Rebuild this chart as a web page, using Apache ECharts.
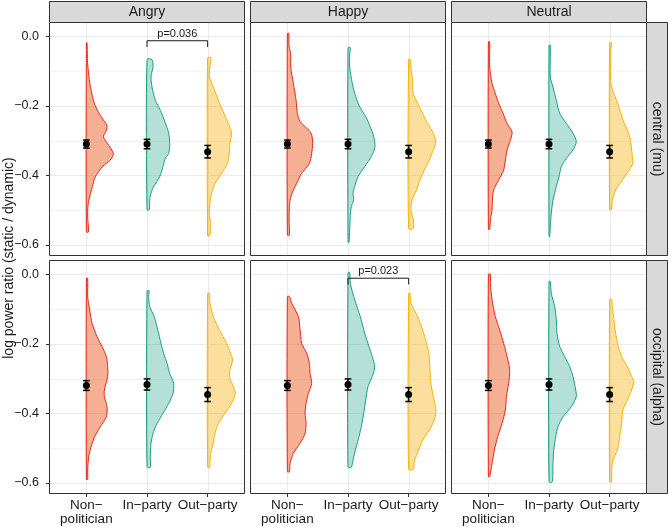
<!DOCTYPE html>
<html>
<head>
<meta charset="utf-8">
<script src="https://cdn.jsdelivr.net/npm/echarts@6/dist/echarts.min.js"></script>
<style>
  html, body { margin: 0; padding: 0; background: #fff; }
  #chart { width: 669px; height: 527px; }
</style>
</head>
<body>
<div id="chart"></div>
<script>
// facets
const emotions = ['Angry', 'Happy', 'Neutral'];
const regions = ['central (mu)', 'occipital (alpha)'];
const groups = ['Non\u2212\npolitician', 'In\u2212party', 'Out\u2212party'];
const yTicks = [-0.6, -0.4, -0.2, 0];
const yMinor = [-0.5, -0.3, -0.1];

// mean +/- SE for each group (same in every emotion panel of a row)
const centralMean = [-0.310, -0.310, -0.332];
const centralSE = [0.0115, 0.0135, 0.018];
const occipitalMean = [-0.320, -0.317, -0.346];
const occipitalSE = [0.014, 0.016, 0.020];

// half violin profiles: [log ratio, density] from top to bottom
const centralAngry = [
  [[-0.019,0.7],[-0.064,1],[-0.088,1.5],[-0.136,3.5],[-0.184,7],[-0.213,11],[-0.241,17],[-0.255,20.5],[-0.270,20],[-0.289,17],[-0.308,21],[-0.337,27],[-0.356,24],[-0.375,16],[-0.404,9],[-0.432,6],[-0.471,2.5],[-0.490,1.5],[-0.520,1.3],[-0.545,2],[-0.563,2]],
  [[-0.067,5],[-0.088,6],[-0.117,4],[-0.146,5],[-0.184,8.3],[-0.213,13.3],[-0.241,17.3],[-0.279,21.7],[-0.308,22.7],[-0.337,21.7],[-0.351,18.3],[-0.375,16],[-0.404,12.7],[-0.432,6.7],[-0.451,4],[-0.471,2.7],[-0.499,2.3]],
  [[-0.062,3.3],[-0.088,2.3],[-0.117,1.7],[-0.146,5.7],[-0.184,10.7],[-0.222,16.3],[-0.251,20.7],[-0.279,24],[-0.308,22.3],[-0.337,21.7],[-0.366,19.7],[-0.394,14],[-0.423,7.3],[-0.451,4],[-0.480,2.3],[-0.509,1.7],[-0.538,3],[-0.557,3],[-0.574,2]]
];
const centralHappy = [
  [[0.008,1.5],[-0.030,1.7],[-0.050,3.3],[-0.088,3.3],[-0.136,6],[-0.184,8.7],[-0.222,10],[-0.245,12.7],[-0.260,17.7],[-0.274,22.7],[-0.289,24.7],[-0.308,25.3],[-0.337,24.3],[-0.366,22],[-0.394,14.3],[-0.423,9.3],[-0.451,4.7],[-0.471,2.7],[-0.490,2],[-0.528,1.7],[-0.572,2]],
  [[-0.033,2.3],[-0.050,1.7],[-0.088,1.7],[-0.136,4.3],[-0.174,7.7],[-0.203,11.7],[-0.231,17.7],[-0.260,22.3],[-0.289,25.7],[-0.318,27],[-0.346,23.3],[-0.375,16.7],[-0.404,10],[-0.432,6.7],[-0.451,5],[-0.471,5.7],[-0.490,3.3],[-0.518,2.3],[-0.557,1.7],[-0.593,1]],
  [[-0.067,2],[-0.088,2.3],[-0.126,4],[-0.165,4.7],[-0.193,9],[-0.222,14],[-0.251,19],[-0.279,24.7],[-0.303,27.3],[-0.327,24.7],[-0.356,20.7],[-0.385,15.7],[-0.413,11.3],[-0.442,8],[-0.471,3.3],[-0.499,2.3],[-0.528,4.7],[-0.553,4.7]]
];
const centralNeutral = [
  [[-0.016,1.3],[-0.088,1.3],[-0.136,3.7],[-0.165,7],[-0.193,10.3],[-0.222,14.7],[-0.251,18.7],[-0.275,23.7],[-0.299,22],[-0.327,18.7],[-0.356,17],[-0.385,15.3],[-0.413,10.3],[-0.442,5.3],[-0.471,4],[-0.499,3.7],[-0.528,2],[-0.555,1.3]],
  [[-0.026,1.3],[-0.117,1.3],[-0.146,4],[-0.184,7.3],[-0.222,10.7],[-0.251,17.3],[-0.279,24],[-0.303,27.3],[-0.327,24],[-0.351,17.3],[-0.375,12.3],[-0.404,10],[-0.432,7.3],[-0.471,4],[-0.509,2.3],[-0.547,1.3],[-0.576,0.7]],
  [[-0.019,2],[-0.040,1.3],[-0.136,1.3],[-0.165,4.3],[-0.203,9.3],[-0.241,13.3],[-0.270,17.7],[-0.299,21],[-0.327,22],[-0.346,22.7],[-0.366,23.3],[-0.385,19.3],[-0.413,12.7],[-0.442,6],[-0.471,2.7],[-0.499,2]]
];
const occipitalAngry = [
  [[-0.0115,1.3],[-0.065,1.3],[-0.103,3.3],[-0.141,5.7],[-0.180,10.7],[-0.208,15.7],[-0.237,20],[-0.266,21.3],[-0.294,21.3],[-0.333,18],[-0.352,18],[-0.381,20.7],[-0.410,20],[-0.438,14],[-0.467,8.3],[-0.496,4.7],[-0.525,2.3],[-0.563,1.3],[-0.590,1.3]],
  [[-0.048,2],[-0.064,1.7],[-0.093,2.7],[-0.122,7.3],[-0.160,10.7],[-0.199,14],[-0.228,16.7],[-0.256,20],[-0.285,22.7],[-0.314,26.7],[-0.343,26],[-0.371,21.7],[-0.400,16],[-0.429,10],[-0.458,6],[-0.486,4],[-0.525,3.3],[-0.555,3.3]],
  [[-0.055,1.7],[-0.083,2.3],[-0.122,5.7],[-0.160,11.7],[-0.199,19],[-0.228,23],[-0.247,25],[-0.275,22.3],[-0.294,21.7],[-0.323,25.7],[-0.342,27.7],[-0.371,24],[-0.400,17.3],[-0.429,10.7],[-0.458,7.3],[-0.486,5.7],[-0.515,3],[-0.544,2.3],[-0.555,2.3]]
];
const occipitalHappy = [
  [[-0.064,2],[-0.083,4.3],[-0.122,11],[-0.160,12.7],[-0.199,14.3],[-0.227,19.3],[-0.256,22],[-0.285,22.7],[-0.314,24.3],[-0.343,21],[-0.371,18.7],[-0.400,17.7],[-0.429,18.7],[-0.458,17.7],[-0.486,12.7],[-0.515,6],[-0.544,2.7],[-0.568,2]],
  [[0.005,1.7],[-0.026,2.3],[-0.074,6.7],[-0.122,12.3],[-0.170,16.7],[-0.208,21],[-0.237,24.3],[-0.266,26.7],[-0.294,24.3],[-0.323,20],[-0.362,17.7],[-0.400,15.7],[-0.438,13.3],[-0.467,11],[-0.496,8.3],[-0.525,5.7],[-0.555,3.3]],
  [[-0.055,1.3],[-0.083,2.3],[-0.122,9],[-0.160,14],[-0.199,18],[-0.237,20.7],[-0.275,21.3],[-0.314,22.3],[-0.352,24.7],[-0.390,27.3],[-0.419,25.7],[-0.448,20.7],[-0.477,14],[-0.506,10],[-0.535,6],[-0.561,4.7]]
];
const occipitalNeutral = [
  [[0.0,2],[-0.026,2],[-0.074,3.7],[-0.122,7],[-0.160,11.3],[-0.199,15.3],[-0.237,18.7],[-0.275,21.3],[-0.314,20.3],[-0.352,18],[-0.390,17],[-0.429,13.7],[-0.467,9.3],[-0.506,6],[-0.544,3.7],[-0.582,1.3]],
  [[-0.021,1.3],[-0.055,2.3],[-0.093,5.7],[-0.131,7.3],[-0.170,8],[-0.208,10.7],[-0.237,15.7],[-0.266,20.7],[-0.294,24],[-0.333,26.7],[-0.352,27.3],[-0.381,22.3],[-0.410,14],[-0.438,9],[-0.467,6.7],[-0.506,4.7],[-0.544,4],[-0.597,3.3]],
  [[-0.072,2],[-0.093,2.7],[-0.131,4.3],[-0.170,6],[-0.208,8.7],[-0.237,12],[-0.266,17.7],[-0.294,22],[-0.309,24.3],[-0.333,22],[-0.362,17.7],[-0.390,13.3],[-0.429,12],[-0.467,10],[-0.506,7.7],[-0.534,3.3],[-0.563,2],[-0.597,2]]
];

// significance brackets: row, col, from group, to group, height, label
const sigTests = [
  [0, 0, 2, 3, -0.013, 'p=0.036'],
  [1, 1, 2, 3, -0.0115, 'p=0.023']
];

const profiles = [
  [centralAngry, centralHappy, centralNeutral],
  [occipitalAngry, occipitalHappy, occipitalNeutral]
];
const means = [centralMean, occipitalMean];
const ses = [centralSE, occipitalSE];

// style / layout
const FONT = '"Liberation Sans", Arial, Helvetica, sans-serif';
const lineCols = ['#EB2419', '#1A9E83', '#F5B301'];
const fillCols = ['rgba(236,95,40,0.5)', 'rgba(26,158,131,0.32)', 'rgba(247,175,10,0.4)'];
const colLeft = [50, 251, 452];
const rowTop = [23, 261];
const panelW = 194, panelH = 232;
const WIDTH_SCALE = 1 / 60.6; // density -> x units
const Y_MIN = -0.629, Y_MAX = 0.038;

const chart = echarts.init(document.getElementById('chart'), null, { renderer: 'canvas' });

const grids = [], xAxes = [], yAxes = [], series = [], graphics = [];

function fmtY(v) {
  return (v < 0 ? '\u2212' : '') + Math.abs(v).toFixed(1);
}

for (let r = 0; r < 2; r++) {
  for (let c = 0; c < 3; c++) {
    const g = r * 3 + c;
    grids.push({
      left: colLeft[c], top: rowTop[r], width: panelW, height: panelH,
      containLabel: false, outerBoundsMode: 'none', show: false
    });
    xAxes.push({
      type: 'value', gridIndex: g, min: 0.4, max: 3.6, position: 'bottom',
      axisLine: { show: false, onZero: false },
      splitLine: { show: false },
      axisTick: { show: r === 1, customValues: [1, 2, 3], length: 4, lineStyle: { color: '#333', width: 1 } },
      axisLabel: {
        show: r === 1, customValues: [1, 2, 3], margin: 5,
        formatter: v => groups[Math.round(v) - 1],
        fontFamily: FONT, fontSize: 13.5, lineHeight: 14, color: '#1a1a1a'
      }
    });
    yAxes.push({
      type: 'value', gridIndex: g, min: Y_MIN, max: Y_MAX, position: 'left',
      axisLine: { show: false, onZero: false },
      splitLine: { show: false },
      axisTick: { show: c === 0, customValues: yTicks, length: 4, lineStyle: { color: '#333', width: 1 } },
      axisLabel: {
        show: c === 0, customValues: yTicks, margin: 11,
        formatter: fmtY, fontFamily: FONT, fontSize: 12.5, color: '#1a1a1a'
      }
    });

    // grid lines
    const gl = [];
    yTicks.forEach(v => gl.push([0, v]));
    yMinor.forEach(v => gl.push([1, v]));
    [1, 2, 3].forEach(v => gl.push([2, v]));
    series.push({
      type: 'custom', xAxisIndex: g, yAxisIndex: g, silent: true, z: 1,
      data: gl,
      renderItem: (params, api) => {
        const cs = params.coordSys;
        const kind = api.value(0), v = api.value(1);
        if (kind === 2) {
          const x = Math.round(api.coord([v, -0.3])[0]) + 0.5;
          return { type: 'line', shape: { x1: x, y1: cs.y, x2: x, y2: cs.y + cs.height },
                   style: { stroke: '#EBEBEB', lineWidth: 1 } };
        }
        const y = Math.round(api.coord([1, v])[1]) + 0.5;
        return { type: 'line', shape: { x1: cs.x, y1: y, x2: cs.x + cs.width, y2: y },
                 style: { stroke: kind === 0 ? '#EBEBEB' : '#F4F4F4', lineWidth: 1 } };
      }
    });

    // half violins
    const prof = profiles[r][c];
    series.push({
      type: 'custom', xAxisIndex: g, yAxisIndex: g, silent: true, z: 2,
      data: [[1, -0.3], [2, -0.3], [3, -0.3]],
      renderItem: (params, api) => {
        const i = params.dataIndex;
        const x0 = api.value(0);
        const p = prof[i];
        const pts = [api.coord([x0, p[0][0]])];
        p.forEach(d => pts.push(api.coord([x0 + d[1] * WIDTH_SCALE, d[0]])));
        pts.push(api.coord([x0, p[p.length - 1][0]]));
        return {
          type: 'polygon', shape: { points: pts, smooth: 0.25 },
          style: { fill: fillCols[i], stroke: lineCols[i], lineWidth: 1 }
        };
      }
    });

    // error bars (mean +/- SE)
    series.push({
      type: 'custom', xAxisIndex: g, yAxisIndex: g, silent: true, z: 4,
      data: means[r].map((m, i) => [i + 1, m, ses[r][i]]),
      renderItem: (params, api) => {
        const x = api.value(0), m = api.value(1), s = api.value(2);
        const hi = api.coord([x, m + s]), lo = api.coord([x, m - s]);
        const cl = api.coord([x - 0.055, m])[0], cr = api.coord([x + 0.055, m])[0];
        const st = { stroke: '#000', lineWidth: 1.5 };
        return {
          type: 'group', children: [
            { type: 'line', shape: { x1: hi[0], y1: hi[1], x2: lo[0], y2: lo[1] }, style: st },
            { type: 'line', shape: { x1: cl, y1: hi[1], x2: cr, y2: hi[1] }, style: st },
            { type: 'line', shape: { x1: cl, y1: lo[1], x2: cr, y2: lo[1] }, style: st }
          ]
        };
      }
    });
    series.push({
      type: 'scatter', xAxisIndex: g, yAxisIndex: g, silent: true, z: 5,
      symbolSize: 7, itemStyle: { color: '#000', opacity: 1 },
      data: means[r].map((m, i) => [i + 1, m])
    });

    // significance brackets
    const tests = sigTests.filter(t => t[0] === r && t[1] === c);
    if (tests.length) {
      series.push({
        type: 'custom', xAxisIndex: g, yAxisIndex: g, silent: true, z: 6,
        data: tests.map(t => [t[2], t[3], t[4]]),
        renderItem: (params, api) => {
          const a = api.value(0), b = api.value(1), h = api.value(2);
          const drop = 0.018;
          const p1 = api.coord([a, h - drop]), p2 = api.coord([a, h]);
          const p3 = api.coord([b, h]), p4 = api.coord([b, h - drop]);
          const mid = api.coord([(a + b) / 2, h]);
          return {
            type: 'group', children: [
              { type: 'polyline', shape: { points: [p1, p2, p3, p4] },
                style: { stroke: '#1a1a1a', lineWidth: 1, fill: null } },
              { type: 'text', x: mid[0], y: mid[1] - 1.5,
                style: { text: tests[params.dataIndex][5], font: '11px ' + FONT,
                         fill: '#1a1a1a', align: 'center', verticalAlign: 'bottom' } }
            ]
          };
        }
      });
    }

    // panel border
    graphics.push({
      type: 'rect', z: 20, silent: true,
      shape: { x: colLeft[c] - 0.5, y: rowTop[r] - 0.5, width: panelW + 1, height: panelH + 1 },
      style: { fill: null, stroke: '#333', lineWidth: 1 }
    });
  }
}

// top strips
emotions.forEach((name, c) => {
  graphics.push({
    type: 'rect', z: 20, silent: true,
    shape: { x: colLeft[c] - 0.5, y: 1.5, width: panelW + 1, height: 21 },
    style: { fill: '#D9D9D9', stroke: '#333', lineWidth: 1 }
  });
  graphics.push({
    type: 'text', z: 21, silent: true, x: colLeft[c] + panelW / 2, y: 12.5,
    style: { text: name, font: '14px ' + FONT, fill: '#1a1a1a', align: 'center', verticalAlign: 'middle' }
  });
});

// right strips
regions.forEach((name, r) => {
  graphics.push({
    type: 'rect', z: 20, silent: true,
    shape: { x: 646.5, y: rowTop[r] - 0.5, width: 21, height: panelH + 1 },
    style: { fill: '#D9D9D9', stroke: '#333', lineWidth: 1 }
  });
  graphics.push({
    type: 'text', z: 21, silent: true, x: 657, y: rowTop[r] + panelH / 2, rotation: -Math.PI / 2,
    style: { text: name, font: '14px ' + FONT, fill: '#1a1a1a', align: 'center', verticalAlign: 'middle' }
  });
});

// y axis title
graphics.push({
  type: 'text', z: 21, silent: true, x: 9, y: 258, rotation: Math.PI / 2,
  style: { text: 'log power ratio (static / dynamic)', font: '14px ' + FONT, fill: '#1a1a1a',
           align: 'center', verticalAlign: 'middle' }
});

chart.setOption({
  animation: false,
  backgroundColor: '#fff',
  grid: grids,
  xAxis: xAxes,
  yAxis: yAxes,
  series: series,
  graphic: { elements: graphics }
});
</script>
</body>
</html>
